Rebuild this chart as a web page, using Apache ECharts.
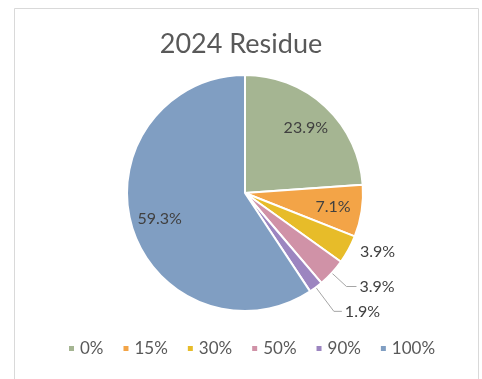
<!DOCTYPE html>
<html>
<head>
<meta charset="utf-8">
<script src="https://cdn.jsdelivr.net/npm/echarts@6/dist/echarts.min.js"></script>
<style>
  html, body { margin: 0; padding: 0; background: #ffffff; }
  #chart { width: 482px; height: 379px; }
</style>
</head>
<body>
<div id="chart"></div>
<script>
// Residue share by class, 2024
const categories = ['0%', '15%', '30%', '50%', '90%', '100%'];
const shares = [23.9, 7.1, 3.9, 3.9, 1.9, 59.3];
const sliceColors = ['#A5B592', '#F3A447', '#E7BC29', '#D092A7', '#9C85C0', '#809EC2'];
const chartTitle = '2024 Residue';

const FONT = 'Lato, "Open Sans", sans-serif';
const R = 118;
const CENTER = [245, 193];

// slices large enough to carry their label inside
const insideIdx = [0, 1, 5];
// leader line lengths for the slices labelled outside
const outsideLines = {
  2: { show: false, length: 5, length2: 4 },
  3: { show: true, length: 20, length2: 10 },
  4: { show: true, length: 30, length2: 8 }
};

const fmt = p => Number(p.value).toFixed(1) + '%';

const mainData = categories.map((name, i) => {
  const item = { name, value: shares[i], itemStyle: { color: sliceColors[i] } };
  if (outsideLines[i]) {
    item.label = { show: true };
    item.labelLine = outsideLines[i];
  } else {
    item.label = { show: false };
    item.labelLine = { show: false };
  }
  return item;
});

const innerLabelData = categories.map((name, i) => ({
  name,
  value: shares[i],
  label: { show: insideIdx.includes(i) }
}));

const chart = echarts.init(document.getElementById('chart'), null, { renderer: 'canvas' });
chart.setOption({
  animation: false,
  backgroundColor: '#ffffff',
  color: sliceColors,
  title: {
    text: chartTitle,
    left: 'center',
    top: 26,
    padding: [5, 5, 5, 16],
    textStyle: { fontFamily: FONT, fontSize: 27, fontWeight: 'normal', color: '#595959' }
  },
  legend: {
    data: categories,
    top: 335,
    left: 62,
    itemWidth: 7,
    itemHeight: 7,
    itemGap: 18,
    icon: 'rect',
    textStyle: { fontFamily: FONT, fontSize: 17, color: '#595959' }
  },
  graphic: [{
    type: 'rect',
    silent: true,
    shape: { x: 14.5, y: 8.5, width: 464, height: 420 },
    style: { fill: 'none', stroke: '#d9d9d9', lineWidth: 1 }
  }],
  series: [
    {
      type: 'pie',
      center: CENTER,
      radius: [0, R],
      startAngle: 90,
      clockwise: true,
      avoidLabelOverlap: true,
      silent: true,
      itemStyle: { borderColor: '#ffffff', borderWidth: 2 },
      label: {
        position: 'outside',
        formatter: fmt,
        fontFamily: FONT,
        fontSize: 16,
        color: '#404040',
        distanceToLabelLine: 3
      },
      labelLine: { lineStyle: { color: '#a6a6a6', width: 1 } },
      data: mainData
    },
    {
      type: 'pie',
      center: CENTER,
      radius: [R * 0.46, R],
      startAngle: 90,
      clockwise: true,
      silent: true,
      itemStyle: { color: 'rgba(0,0,0,0)', borderWidth: 0 },
      label: {
        position: 'inside',
        formatter: fmt,
        fontFamily: FONT,
        fontSize: 16,
        color: '#404040'
      },
      labelLine: { show: false },
      data: innerLabelData
    }
  ]
});
</script>
</body>
</html>
